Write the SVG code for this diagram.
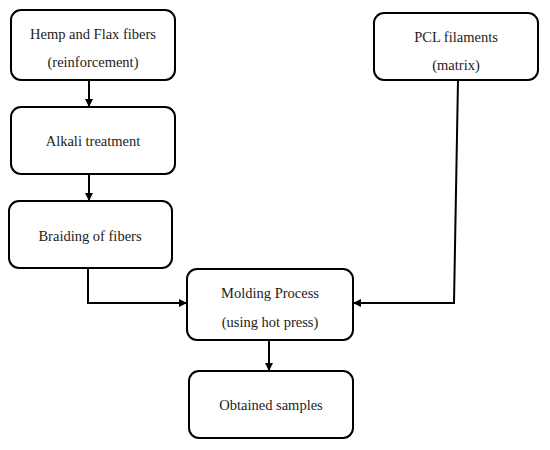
<svg xmlns="http://www.w3.org/2000/svg" width="550" height="450" viewBox="0 0 550 450">
<defs>
<marker id="ah" viewBox="0 0 10 10" refX="10" refY="5" markerWidth="8" markerHeight="8" markerUnits="userSpaceOnUse" orient="auto">
<path d="M0,0 L10,5 L0,10 Z" fill="#000"/>
</marker>
</defs>
<style>
.box{fill:#fff;stroke:#000;stroke-width:2}
.t{font-family:"Liberation Serif","DejaVu Serif",serif;font-size:14.5px;fill:#222;text-anchor:middle}
.c{fill:none;stroke:#000;stroke-width:2;marker-end:url(#ah)}
</style>
<rect width="550" height="450" fill="#fff"/>
<g id="connectors">
<line class="c" x1="89" y1="80" x2="89" y2="107"/>
<line class="c" x1="89" y1="174" x2="89" y2="201"/>
<polyline class="c" points="88,268 88,303 187,303"/>
<polyline class="c" points="458,80 454,303 353,303"/>
<line class="c" x1="269" y1="340" x2="269" y2="371"/>
</g>
<g id="hemp">
<rect class="box" x="11" y="10" width="164" height="70" rx="10"/>
<text class="t" x="93" y="39">Hemp and Flax fibers</text>
<text class="t" x="93" y="67">(reinforcement)</text>
</g>
<g id="alkali">
<rect class="box" x="11" y="107" width="164" height="67" rx="10"/>
<text class="t" x="93" y="146">Alkali treatment</text>
</g>
<g id="braiding">
<rect class="box" x="9" y="201" width="163" height="67" rx="10"/>
<text class="t" x="90" y="241">Braiding of fibers</text>
</g>
<g id="pcl">
<rect class="box" x="374" y="13" width="164" height="67" rx="10"/>
<text class="t" x="456" y="42">PCL filaments</text>
<text class="t" x="456" y="70">(matrix)</text>
</g>
<g id="molding">
<rect class="box" x="187" y="269" width="166" height="71" rx="10"/>
<text class="t" x="270" y="298">Molding Process</text>
<text class="t" x="270" y="327">(using hot press)</text>
</g>
<g id="obtained">
<rect class="box" x="189" y="371" width="164" height="67" rx="10"/>
<text class="t" x="271" y="410">Obtained samples</text>
</g>
</svg>
